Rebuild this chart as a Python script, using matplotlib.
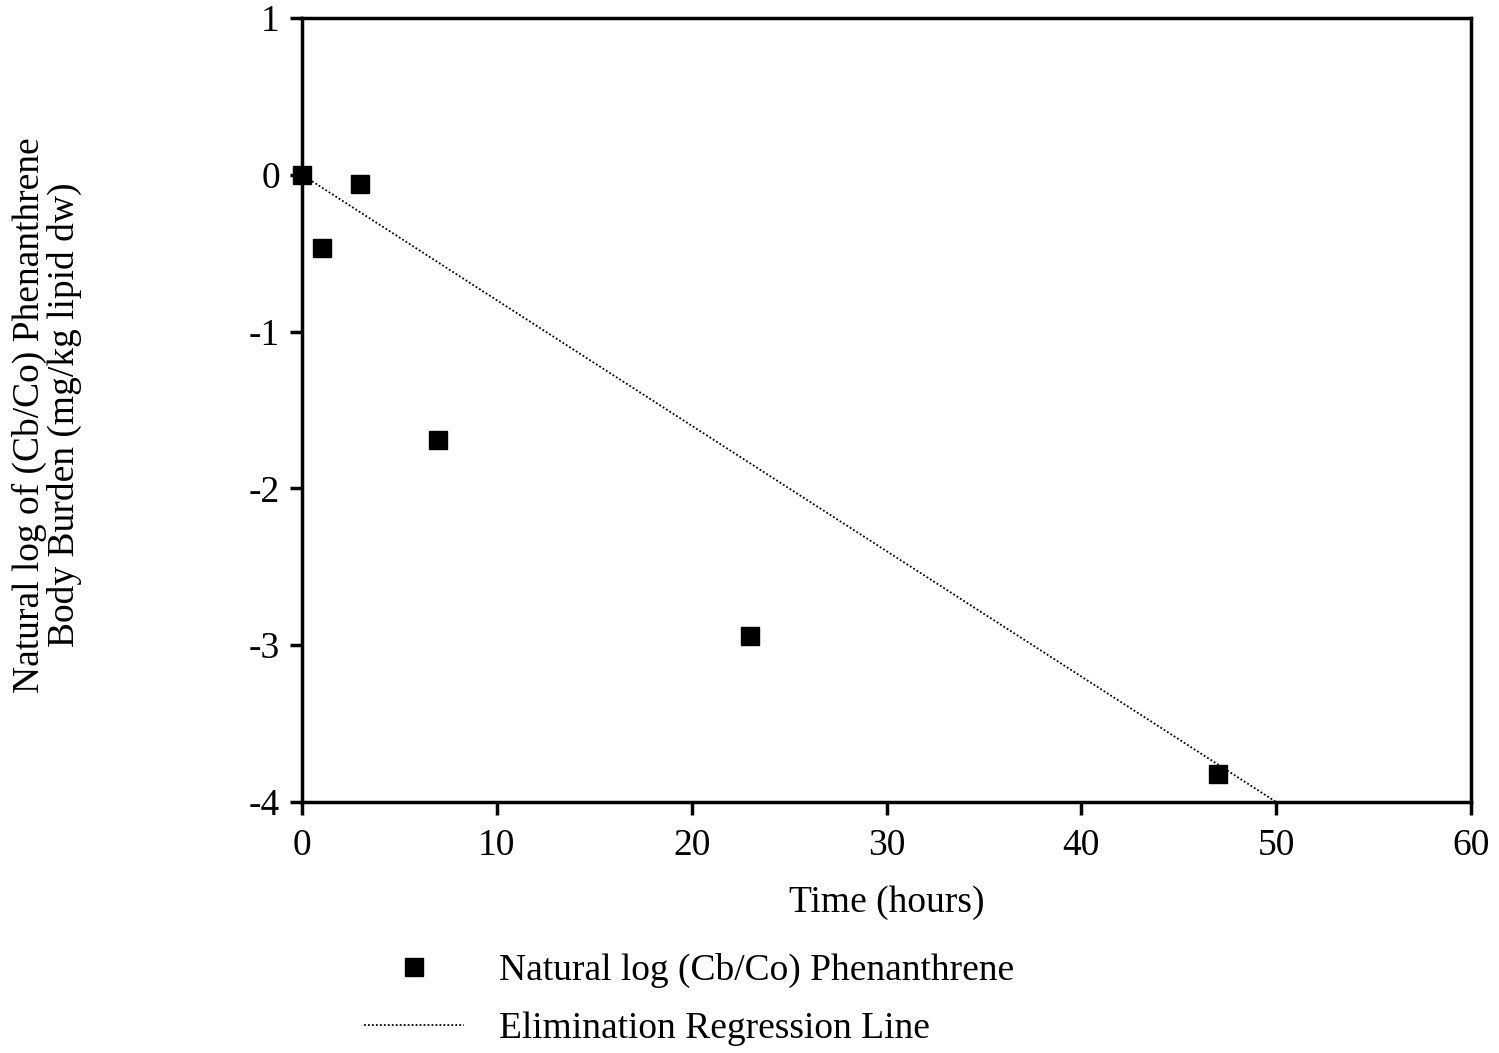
import matplotlib.pyplot as plt
from matplotlib.ticker import MultipleLocator

# measured points: time (hours) vs ln(Cb/Co)
time_hours = [0, 1, 3, 7, 23, 47]
ln_ratio = [0.0, -0.47, -0.06, -1.69, -2.94, -3.82]

# elimination regression line end points
reg_x = [0, 50]
reg_y = [0.0, -4.0]

plt.rcParams['font.family'] = ['Liberation Serif', 'DejaVu Serif']
plt.rcParams['axes.unicode_minus'] = False

fig = plt.figure(figsize=(14.99, 10.53), dpi=100)
ax = fig.add_axes([0.2015, 0.2384, 0.7798, 0.7445])

ax.plot(time_hours, ln_ratio, linestyle='none', marker='s', ms=13,
        color='black', clip_on=False, zorder=3,
        label='Natural log (Cb/Co) Phenanthrene')
ax.plot(reg_x, reg_y, linestyle=(0, (1, 1.2)), lw=1.3, color='black',
        label='Elimination Regression Line')

ax.set_xlim(0, 60)
ax.set_ylim(-4, 1)
ax.xaxis.set_major_locator(MultipleLocator(10))
ax.yaxis.set_major_locator(MultipleLocator(1))

for side in ax.spines.values():
    side.set_linewidth(2.5)
ax.tick_params(direction='out', length=9, width=2.5, labelsize=27)
ax.tick_params(axis='x', pad=10)
ax.tick_params(axis='y', pad=7)

ax.set_xlabel('Time (hours)', fontsize=27, labelpad=16)
fig.text(0.031, 0.606, 'Natural log of (Cb/Co) Phenanthrene\nBody Burden (mg/kg lipid dw)',
         rotation=90, ha='center', va='center', fontsize=27, linespacing=1.0)

fig.legend(loc='upper left', bbox_to_anchor=(0.2205, 0.127), frameon=False,
           fontsize=27, handlelength=2.67, handletextpad=0.93, labelspacing=0.62,
           numpoints=1)

fig.savefig('out.png', dpi=100)
